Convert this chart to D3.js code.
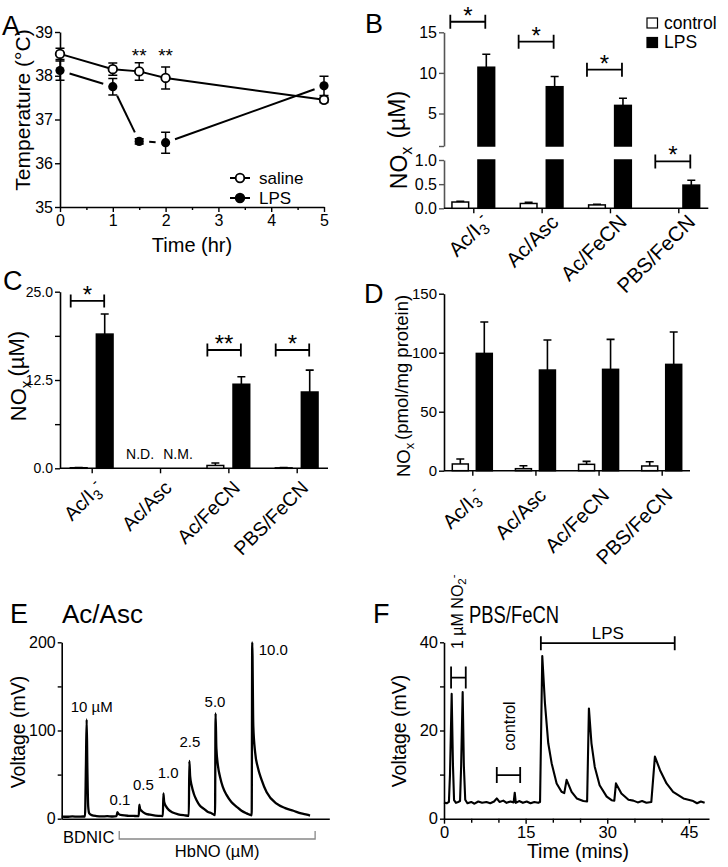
<!DOCTYPE html>
<html><head><meta charset="utf-8">
<script src="https://cdn.jsdelivr.net/npm/d3@7"></script>
<style>body{margin:0;background:#fff} svg{display:block}</style>
</head><body>
<script>
// ---------------- DATA ----------------
// Panel A
const timeHr = [0, 1, 1.5, 2, 5];
const salineTemp = [38.5, 38.15, 38.1, 37.95, 37.45];
const salineErr = [0.13, 0.14, 0.2, 0.25, 0.06];
const lpsTemp = [38.12, 37.75, 36.5, 36.47, 37.77];
const lpsErr = [0.22, 0.19, 0.06, 0.24, 0.22];
const sigTimesA = [1.5, 2];
const sigLabelsA = ["**", "**"];
const tempTicks = [35, 36, 37, 38, 39];
const hrTicks = [0, 1, 2, 3, 4, 5];

// Shared categories
const methods = ["Ac/I3-", "Ac/Asc", "Ac/FeCN", "PBS/FeCN"];

// Panel B (NOx, uM)
const bControl = [0.13, 0.10, 0.07, null];
const bControlErr = [0.015, 0.025, 0.015, null];
const bLps = [10.7, 8.3, 6.0, 0.48];
const bLpsErr = [1.6, 1.25, 0.88, 0.1];
const bSig = ["*", "*", "*", "*"];
const bSigLevel = [16.3, 13.85, 10.4, 0.97];

// Panel C (NOx, uM)
const cControl = [0.08, null, 0.4, 0.06];
const cControlErr = [0.04, null, 0.35, 0.04];
const cLps = [19.0, null, 11.9, 10.8];
const cLpsErr = [2.85, null, 1.05, 3.1];
const cSig = ["*", null, "**", "*"];
const cSigLevel = [23.7, null, 16.75, 16.75];
const cNotes = ["N.D.", "N.M."];
const cTicks = [0, 6.25, 12.5, 18.75, 25];

// Panel D (pmol/mg protein)
const dControl = [5.7, 1.7, 5.4, 4.0];
const dControlErr = [4.2, 2.5, 2.5, 3.6];
const dLps = [99.4, 85.3, 85.9, 90.1];
const dLpsErr = [26.6, 25.4, 25.4, 27.4];
const dTicks = [0, 50, 100, 150];

// Panel E trace: [time (arb.), mV]
const eTrace = [[0,2.4],[2,2.2],[4,2.6],[6,2.3],[8,2.5],[8.7,2.5],[9.05,60],[9.33,112.5],[9.6,55],[9.9,14],[10.3,6],[11.2,4],[13,3],[15,2.6],[17,2.9],[19,2.5],[20.5,2.8],[20.8,7.5],[21.2,5.5],[22.5,4],[25,3.3],[27,3.1],[28.8,3.0],[29.0,16],[29.3,11],[30,8.5],[31.2,6],[33,4.5],[35,3.5],[36.5,3.2],[37.8,3.0],[38.0,28.8],[38.3,19],[39,14],[40,10],[41.5,7],[43.5,5],[46,3.8],[47.5,3.3],[47.7,65.4],[48.0,48],[48.6,37],[49.4,28],[50.4,21],[51.6,15],[53.0,11.5],[54.5,8],[56.1,6],[57.3,4],[57.5,119.5],[57.8,80],[58.4,60],[59.2,47],[60.2,36],[61.6,27],[63.4,19],[65.4,13.5],[67.2,9],[69.1,6],[71.0,3.8],[71.2,200],[71.6,105],[72.3,75],[73.3,58],[74.6,45],[76.6,30],[80.3,17],[83.5,12],[86.6,9],[89.5,6],[91.6,4.5],[92.8,3.5]];
const ePeakLabels = ["10 \u00B5M", "0.1", "0.5", "1.0", "2.5", "5.0", "10.0"];
const ePeakLabelT = [11.2, 21.8, 30.5, 39.8, 47.9, 57.3, 79.1];
const ePeakLabelV = [121, 15.6, 32.5, 46, 81.7, 127, 185.6];
const eTicks = [0, 50, 100, 150, 200];
const eHbNORange = [21.5, 94.7];

// Panel F trace: [time (min), mV]
const fTrace = [[0.0,3.7],[0.5,3.5],[0.9,3.8],[1.1,10],[1.41,28.3],[1.65,12],[1.85,4.2],[2.2,3.6],[2.6,3.8],[2.95,4.0],[3.15,12],[3.43,28.7],[3.65,12],[3.9,4.3],[4.3,3.5],[5.0,3.8],[5.6,3.4],[6.3,3.9],[7.0,3.6],[7.8,3.8],[8.5,3.5],[9.2,3.9],[9.7,4.6],[10.2,3.8],[10.9,4.1],[11.5,3.6],[12.2,3.9],[12.8,3.7],[13.0,5.9],[13.2,3.6],[13.8,4.0],[14.5,3.6],[15.2,3.9],[15.9,3.5],[16.6,3.8],[17.3,3.6],[17.65,3.8],[18.06,36.9],[18.55,26.2],[19.16,17.1],[19.78,12.6],[20.7,8.0],[21.6,6.1],[22.1,5.8],[22.53,8.8],[23.45,6.1],[24.4,4.6],[25.6,4.0],[26.3,3.9],[26.63,25.0],[27.1,17.1],[27.7,11.8],[28.6,7.6],[29.9,5.0],[30.8,4.2],[31.3,4.1],[31.6,8.0],[32.6,5.7],[33.9,4.3],[34.8,4.1],[35.6,3.7],[36.4,4.0],[37.2,3.6],[38.1,3.8],[38.76,14.1],[39.7,11.0],[40.9,8.0],[42.1,6.1],[44.0,4.6],[45.8,4.0],[46.5,3.5],[47.2,3.9],[47.9,3.6]];
const fMinTicks = [0, 15, 30, 45];
const fMinorTicks = [5, 10, 20, 25, 35, 40];
const fVoltTicks = [0, 10, 20, 30, 40];
const fNitriteRange = [1.3, 4.0], fNitriteLevel = 32;
const fControlRange = [9.7, 14.0], fControlLevel = 9.9;
const fLpsRange = [17.8, 42.4], fLpsLevel = 39.8;

// ---------------- DRAWING ----------------
const FONT = "'Liberation Sans', Arial, Helvetica, sans-serif";
const svg = d3.select("body").append("svg").attr("width", 728).attr("height", 867)
  .attr("font-family", FONT);

function styleAxis(g, fs, color) {
  color = color || "#000";
  g.attr("font-family", FONT).attr("font-size", fs);
  g.selectAll("path.domain").attr("stroke", color).attr("stroke-width", 1.6);
  g.selectAll(".tick line").attr("stroke", color).attr("stroke-width", 1.4);
  g.selectAll(".tick text").attr("fill", "#000");
  return g;
}
function letter(t, x, y) {
  svg.append("text").attr("x", x).attr("y", y).attr("font-size", 27).text(t);
}
function methodLabel(sel, name) {
  if (name === "Ac/I3-") {
    sel.append("tspan").text("Ac/I");
    sel.append("tspan").attr("dy", "0.3em").attr("font-size", "0.72em").text("3");
    sel.append("tspan").attr("dy", "-0.85em").attr("font-size", "0.72em").text("-");
  } else sel.text(name);
}
function catLabels(g, x, axisY, fs, dx, dy) {
  methods.forEach(m => {
    const t = g.append("text")
      .attr("transform", `translate(${x(m) + dx},${axisY + dy}) rotate(-45)`)
      .attr("text-anchor", "end").attr("dy", "0.35em").attr("font-size", fs);
    methodLabel(t, m);
  });
}
function noxLabel(g, x, y, fs, rest, gap) {
  const t = g.append("text").attr("transform", `translate(${x},${y}) rotate(-90)`)
    .attr("text-anchor", "middle").attr("font-size", fs);
  t.append("tspan").text("NO");
  t.append("tspan").attr("dy", "0.3em").attr("font-size", "0.7em").text("x");
  t.append("tspan").attr("dy", "-0.3em").attr("dx", gap).text(rest);
}
function bracket(g, x0, x1, y, half, label, fs) {
  g.append("path").attr("d", `M${x0},${y - half}V${y + half}M${x0},${y}H${x1}M${x1},${y - half}V${y + half}`)
    .attr("stroke", "#000").attr("stroke-width", 1.8).attr("fill", "none");
  if (label) g.append("text").attr("x", (x0 + x1) / 2).attr("y", y + 2).attr("text-anchor", "middle")
    .attr("font-size", fs).text(label);
}
function bar(g, xc, w, yTop, yBot, fill) {
  g.append("rect").attr("x", xc - w / 2).attr("y", Math.min(yTop, yBot)).attr("width", w)
    .attr("height", Math.abs(yBot - yTop)).attr("fill", fill).attr("stroke", "#000").attr("stroke-width", 1.5);
}
function errUp(g, xc, y0, y1, cap) {
  g.append("path").attr("d", `M${xc},${y0}V${y1}M${xc - cap},${y1}H${xc + cap}`)
    .attr("stroke", "#000").attr("stroke-width", 1.6).attr("fill", "none");
}

// ===== Panel A =====
(function () {
  const g = svg.append("g");
  const x = d3.scaleLinear().domain([0, 5]).range([60, 324]);
  const y = d3.scaleLinear().domain([35, 39]).range([207, 32]);
  styleAxis(g.append("g").attr("transform", "translate(0,207)")
    .call(d3.axisBottom(x).tickValues(hrTicks).tickSize(5).tickSizeOuter(0).tickPadding(3).tickFormat(d3.format("d"))), 16);
  const mn = g.append("g").attr("transform", "translate(0,207)")
    .call(d3.axisBottom(x).tickValues([0.5, 1.5, 2.5, 3.5, 4.5]).tickSize(3).tickFormat(""));
  mn.select(".domain").remove(); styleAxis(mn, 16);
  styleAxis(g.append("g").attr("transform", "translate(60,0)")
    .call(d3.axisLeft(y).tickValues(tempTicks).tickSize(5).tickSizeOuter(0).tickPadding(2).tickFormat(d3.format("d"))), 16);

  g.append("text").attr("x", 192).attr("y", 252).attr("text-anchor", "middle").attr("font-size", 20).text("Time (hr)");
  g.append("text").attr("transform", "translate(30,110) rotate(-90)").attr("text-anchor", "middle")
    .attr("font-size", 21).text("Temperature (\u00B0C)");

  // error bars
  const cap = 4.5;
  [[salineTemp, salineErr], [lpsTemp, lpsErr]].forEach(([v, e]) => {
    timeHr.forEach((t, i) => {
      const xc = x(t), y0 = y(v[i] - e[i]), y1 = y(v[i] + e[i]);
      g.append("path").attr("d", `M${xc},${y0}V${y1}M${xc - cap},${y0}H${xc + cap}M${xc - cap},${y1}H${xc + cap}`)
        .attr("stroke", "#000").attr("stroke-width", 1.5).attr("fill", "none");
    });
  });
  // saline line
  g.append("path").datum(timeHr.map((t, i) => [x(t), y(salineTemp[i])]))
    .attr("d", d3.line()).attr("stroke", "#000").attr("stroke-width", 2).attr("fill", "none");
  // LPS line with gaps near markers
  const gap = 10;
  for (let i = 0; i < timeHr.length - 1; i++) {
    const x0 = x(timeHr[i]), y0 = y(lpsTemp[i]), x1 = x(timeHr[i + 1]), y1 = y(lpsTemp[i + 1]);
    const L = Math.hypot(x1 - x0, y1 - y0), ux = (x1 - x0) / L, uy = (y1 - y0) / L;
    g.append("path").datum([[x0 + ux * gap, y0 + uy * gap], [x1 - ux * gap, y1 - uy * gap]])
      .attr("d", d3.line()).attr("stroke", "#000").attr("stroke-width", 2).attr("fill", "none");
  }
  timeHr.forEach((t, i) => {
    g.append("circle").attr("cx", x(t)).attr("cy", y(salineTemp[i])).attr("r", 4.3)
      .attr("fill", "#fff").attr("stroke", "#000").attr("stroke-width", 1.8);
    g.append("circle").attr("cx", x(t)).attr("cy", y(lpsTemp[i])).attr("r", 4.6).attr("fill", "#000");
  });
  sigTimesA.forEach((t, i) => g.append("text").attr("x", x(t)).attr("y", 62).attr("text-anchor", "middle")
    .attr("font-size", 19).text(sigLabelsA[i]));
  // legend
  [["saline", "#fff", 178], ["LPS", "#000", 198]].forEach(([lab, f, yy]) => {
    g.append("path").attr("d", `M230,${yy}H250`).attr("stroke", "#000").attr("stroke-width", 2);
    g.append("circle").attr("cx", 240).attr("cy", yy).attr("r", 4.3).attr("fill", f).attr("stroke", "#000").attr("stroke-width", 1.8);
    g.append("text").attr("x", 259).attr("y", yy).attr("dy", "0.35em").attr("font-size", 17).text(lab);
  });
})();
letter("A", 2, 35);

// ===== Panel B =====
(function () {
  const g = svg.append("g");
  const x = d3.scalePoint().domain(methods).range([473.3, 678.3]);
  const yU = d3.scaleLinear().domain([1, 15]).range([146, 32.3]);
  const yL = d3.scaleLinear().domain([0, 1]).range([208.3, 160]);
  const axY = 208.3;
  styleAxis(g.append("g").attr("transform", "translate(444,0)")
    .call(d3.axisLeft(yU).tickValues([1, 5, 10, 15]).tickSize(5).tickSizeOuter(0).tickPadding(2)
      .tickFormat(d => d === 1 ? "" : d)), 16, "#555");
  styleAxis(g.append("g").attr("transform", "translate(444,0)")
    .call(d3.axisLeft(yL).tickValues([0, 0.5, 1]).tickSize(5).tickSizeOuter(0).tickPadding(2)
      .tickFormat(d3.format(".1f"))), 16, "#555");
  const xa = g.append("g").attr("transform", `translate(0,${axY})`).call(d3.axisBottom(x).tickSize(5).tickFormat(""));
  xa.select(".domain").remove(); styleAxis(xa, 16);
  g.append("path").attr("d", `M444,${axY}H708.3`).attr("stroke", "#000").attr("stroke-width", 1.6);
  catLabels(g, x, axY, 20.5, 13, 10);
  noxLabel(g, 407, 140, 23, "(\u00B5M)", 8);

  const w = 16.7, off = 13;
  methods.forEach((m, i) => {
    const xc = x(m);
    if (bControl[i] != null) {
      bar(g, xc - off, w, yL(bControl[i]), yL(0), "#fff");
      errUp(g, xc - off, yL(bControl[i]), yL(bControl[i] + bControlErr[i]), 4);
    }
    const v = bLps[i];
    if (v > 1) {
      bar(g, xc + off, w, yL(1), yL(0), "#000");
      bar(g, xc + off, w, yU(v), yU(1), "#000");
      errUp(g, xc + off, yU(v), yU(v + bLpsErr[i]), 4);
    } else {
      bar(g, xc + off, w, yL(v), yL(0), "#000");
      errUp(g, xc + off, yL(v), yL(v + bLpsErr[i]), 4);
    }
    const lv = bSigLevel[i];
    const yy = lv > 1 ? yU(lv) : yL(lv);
    bracket(g, xc - 23, xc + 12, yy, 7, bSig[i], 24);
  });
  // legend
  [["control", "#fff", 18], ["LPS", "#000", 37.5]].forEach(([lab, f, yy]) => {
    g.append("rect").attr("x", 647).attr("y", yy).attr("width", 10.5).attr("height", 10)
      .attr("fill", f).attr("stroke", "#000").attr("stroke-width", 1.2);
    g.append("text").attr("x", 664).attr("y", yy + 10.5).attr("font-size", 17.5).text(lab);
  });
})();
letter("B", 365, 33);

// ===== Panel C =====
(function () {
  const g = svg.append("g");
  const x = d3.scalePoint().domain(methods).range([91.7, 296.7]);
  const y = d3.scaleLinear().domain([0, 25]).range([468.3, 291.7]);
  const axY = 468.3;
  styleAxis(g.append("g").attr("transform", "translate(60,0)")
    .call(d3.axisLeft(y).tickValues(cTicks).tickSize(5).tickSizeOuter(0).tickPadding(2)
      .tickFormat(d => (d % 12.5 === 0) ? d3.format(".1f")(d) : "")), 14);
  const xa = g.append("g").attr("transform", `translate(0,${axY})`).call(d3.axisBottom(x).tickSize(5).tickFormat(""));
  xa.select(".domain").remove(); styleAxis(xa, 14);
  g.append("path").attr("d", `M60,${axY}H328`).attr("stroke", "#000").attr("stroke-width", 1.6);
  catLabels(g, x, axY, 19.5, 8, 16);
  noxLabel(g, 26, 376, 22, "(\u00B5M)", 4);

  const w = 16.7, off = 13;
  methods.forEach((m, i) => {
    const xc = x(m);
    if (cControl[i] != null) {
      bar(g, xc - off, w, y(cControl[i]), y(0), "#fff");
      errUp(g, xc - off, y(cControl[i]), y(cControl[i] + cControlErr[i]), 4);
    }
    if (cLps[i] != null) {
      bar(g, xc + off, w, y(cLps[i]), y(0), "#000");
      errUp(g, xc + off, y(cLps[i]), y(cLps[i] + cLpsErr[i]), 4);
    }
    if (cSig[i]) bracket(g, xc - 21, xc + 12.5, y(cSigLevel[i]), 6.5, cSig[i], 24);
  });
  const xs = x("Ac/Asc");
  g.append("text").attr("x", xs - 20).attr("y", 459).attr("text-anchor", "middle").attr("font-size", 14).text(cNotes[0]);
  g.append("text").attr("x", xs + 18).attr("y", 459).attr("text-anchor", "middle").attr("font-size", 14).text(cNotes[1]);
})();
letter("C", 3, 290);

// ===== Panel D =====
(function () {
  const g = svg.append("g");
  const x = d3.scalePoint().domain(methods).range([472.3, 661.7]);
  const y = d3.scaleLinear().domain([0, 150]).range([470.7, 293.7]);
  const axY = 470.7;
  styleAxis(g.append("g").attr("transform", "translate(444,0)")
    .call(d3.axisLeft(y).tickValues(dTicks).tickSize(5).tickSizeOuter(0).tickPadding(2)), 15);
  const xa = g.append("g").attr("transform", `translate(0,${axY})`).call(d3.axisBottom(x).tickSize(5).tickFormat(""));
  xa.select(".domain").remove(); styleAxis(xa, 15);
  g.append("path").attr("d", `M444,${axY}H690`).attr("stroke", "#000").attr("stroke-width", 1.6);
  catLabels(g, x, axY, 20, 7, 21);
  noxLabel(g, 410, 386, 18.5, "(pmol/mg protein)", 3);

  const w = 16, off = 12;
  methods.forEach((m, i) => {
    const xc = x(m);
    bar(g, xc - off, w, y(dControl[i]), y(0), "#fff");
    errUp(g, xc - off, y(dControl[i]), y(dControl[i] + dControlErr[i]), 4);
    bar(g, xc + off, w, y(dLps[i]), y(0), "#000");
    errUp(g, xc + off, y(dLps[i]), y(dLps[i] + dLpsErr[i]), 4);
  });
})();
letter("D", 364, 303);

// ===== Panel E =====
(function () {
  const g = svg.append("g");
  const x = d3.scaleLinear().domain([0, 100]).range([61.7, 329.3]);
  const y = d3.scaleLinear().domain([0, 200]).range([818.7, 642.3]);
  styleAxis(g.append("g").attr("transform", "translate(61.7,0)")
    .call(d3.axisLeft(y).tickValues(eTicks).tickSize(4).tickSizeOuter(0).tickPadding(2)
      .tickFormat(d => d % 100 === 0 ? d : "")), 16);
  styleAxis(g.append("g").attr("transform", "translate(0,818.7)")
    .call(d3.axisBottom(x).tickValues([]).tickSizeOuter(0)), 16);
  g.append("path").datum(eTrace).attr("d", d3.line().x(d => x(d[0])).y(d => y(d[1])).curve(d3.curveMonotoneX))
    .attr("fill", "none").attr("stroke", "#000").attr("stroke-width", 2.3).attr("stroke-linejoin", "round");
  ePeakLabels.forEach((l, i) => g.append("text").attr("x", x(ePeakLabelT[i])).attr("y", y(ePeakLabelV[i]))
    .attr("text-anchor", "middle").attr("font-size", 15).text(l));
  g.append("text").attr("transform", "translate(25,732) rotate(-90)").attr("text-anchor", "middle")
    .attr("font-size", 19.5).text("Voltage (mV)");
  g.append("text").attr("x", 63).attr("y", 843).attr("font-size", 16.5).text("BDNIC");
  const hx0 = x(eHbNORange[0]), hx1 = x(eHbNORange[1]);
  g.append("path").attr("d", `M${hx0},831V839H${hx1}V831`).attr("stroke", "#888").attr("stroke-width", 1.3).attr("fill", "none");
  g.append("text").attr("x", (hx0 + hx1) / 2).attr("y", 857).attr("text-anchor", "middle").attr("font-size", 16.5).text("HbNO (\u00B5M)");
  g.append("text").attr("x", 62).attr("y", 623).attr("font-size", 26).text("Ac/Asc");
})();
letter("E", 10, 623);

// ===== Panel F =====
(function () {
  const g = svg.append("g");
  const x = d3.scaleLinear().domain([0, 48.7]).range([444, 709]);
  const y = d3.scaleLinear().domain([0, 40]).range([818.7, 642.3]);
  styleAxis(g.append("g").attr("transform", "translate(444,0)")
    .call(d3.axisLeft(y).tickValues(fVoltTicks).tickSize(4).tickSizeOuter(0).tickPadding(2)
      .tickFormat(d => d % 20 === 0 ? d : "")), 16.5);
  styleAxis(g.append("g").attr("transform", "translate(0,818.7)")
    .call(d3.axisBottom(x).tickValues(fMinTicks).tickSize(5).tickSizeOuter(0).tickPadding(3)), 16.5);
  const mn = g.append("g").attr("transform", "translate(0,818.7)")
    .call(d3.axisBottom(x).tickValues(fMinorTicks).tickSize(4).tickFormat(""));
  mn.select(".domain").remove(); styleAxis(mn, 16);
  g.append("path").datum(fTrace).attr("d", d3.line().x(d => x(d[0])).y(d => y(d[1])))
    .attr("fill", "none").attr("stroke", "#000").attr("stroke-width", 2.1).attr("stroke-linejoin", "round");
  g.append("text").attr("transform", "translate(406,731) rotate(-90)").attr("text-anchor", "middle")
    .attr("font-size", 19.5).text("Voltage (mV)");
  g.append("text").attr("x", 578).attr("y", 858).attr("text-anchor", "middle").attr("font-size", 19.5).text("Time (mins)");
  // brackets
  const hb = (r, lv, half) => {
    const x0 = x(r[0]), x1 = x(r[1]), yy = y(lv);
    g.append("path").attr("d", `M${x0},${yy - half}V${yy + half}M${x0},${yy}H${x1}M${x1},${yy - half}V${yy + half}`)
      .attr("stroke", "#000").attr("stroke-width", 1.8).attr("fill", "none");
    return [x0, x1, yy];
  };
  hb(fNitriteRange, fNitriteLevel, 11);
  hb(fControlRange, fControlLevel, 8);
  const [lx0, lx1, ly] = hb(fLpsRange, fLpsLevel, 7);
  g.append("text").attr("x", (lx0 + lx1) / 2).attr("y", ly - 4).attr("text-anchor", "middle").attr("font-size", 17).text("LPS");
  g.append("text").attr("transform", `translate(515,726) rotate(-90)`).attr("text-anchor", "middle").attr("font-size", 16.5).text("control");
  const nt = g.append("text").attr("transform", "translate(463,649) rotate(-90)").attr("font-size", 16);
  nt.append("tspan").text("1 \u00B5M NO");
  nt.append("tspan").attr("dy", "0.3em").attr("font-size", "0.72em").text("2");
  nt.append("tspan").attr("dy", "-0.85em").attr("font-size", "0.72em").text("-");
  g.append("text").attr("x", 469).attr("y", 623).attr("font-size", 24)
    .attr("textLength", 90).attr("lengthAdjust", "spacingAndGlyphs").text("PBS/FeCN");
})();
letter("F", 373, 623);
</script>
</body></html>
